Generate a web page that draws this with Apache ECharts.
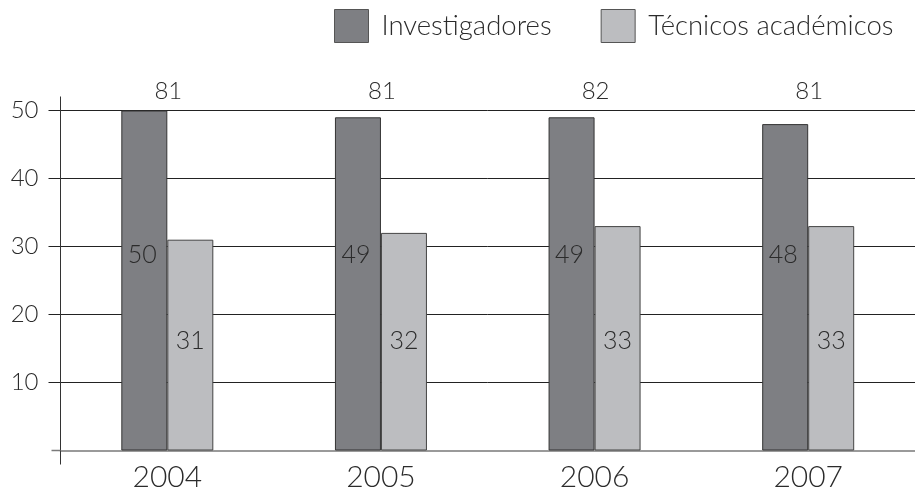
<!DOCTYPE html>
<html>
<head>
<meta charset="utf-8">
<script src="https://cdn.jsdelivr.net/npm/echarts@6/dist/echarts.min.js"></script>
<style>
  html, body { margin: 0; padding: 0; background: #fff; }
  #chart { width: 915px; height: 498px; }
</style>
</head>
<body>
<div id="chart"></div>
<script>
// Personal académico por año
const years = ['2004', '2005', '2006', '2007'];
const investigadores = [50, 49, 49, 48];
const tecnicos = [31, 32, 33, 33];
const totals = [81, 81, 82, 81];
const yTicks = [10, 20, 30, 40, 50];

const FONT = 'Lato, "Open Sans", "DejaVu Sans", sans-serif';
const TEXT = '#2b2b2b';
const DARK = '#7e7f83';
const LIGHT = '#bcbdc0';
const GRID_LEFT = 60.5;

const chart = echarts.init(document.getElementById('chart'), null, { renderer: 'canvas' });

const option = {
  animation: false,
  backgroundColor: '#ffffff',
  textStyle: { fontFamily: FONT, fontWeight: 300 },
  legend: {
    left: 329,
    top: 4,
    itemWidth: 34,
    itemHeight: 33,
    itemGap: 49,
    icon: 'rect',
    itemStyle: { borderColor: '#555', borderWidth: 1 },
    textStyle: {
      fontFamily: FONT, fontWeight: 300, fontSize: 27.5, color: TEXT,
      padding: [0, 0, 0, 8]
    },
    data: ['Investigadores', 'Técnicos académicos']
  },
  grid: { left: GRID_LEFT, right: -12.5, top: 110.5, bottom: 47.5, containLabel: false },
  xAxis: {
    type: 'category',
    data: years,
    axisTick: { show: false },
    axisLine: { show: true, lineStyle: { color: '#7a7a7a', width: 1.5 } },
    axisLabel: { fontFamily: FONT, fontWeight: 300, fontSize: 30, color: TEXT, margin: 12 }
  },
  yAxis: {
    type: 'value',
    min: 0,
    max: 50,
    interval: 10,
    axisLine: { show: false },
    axisTick: {
      show: true, inside: false, length: 12,
      customValues: yTicks,
      lineStyle: { color: '#222', width: 1 }
    },
    axisLabel: {
      customValues: yTicks,
      fontFamily: FONT, fontWeight: 300, fontSize: 24, color: TEXT, margin: 22
    },
    splitLine: { show: true, lineStyle: { color: '#222', width: 1 } }
  },
  series: [
    {
      name: 'Investigadores',
      type: 'bar',
      data: investigadores,
      barWidth: 46,
      barGap: '0%',
      itemStyle: { color: DARK, borderColor: '#333', borderWidth: 1 },
      label: {
        show: true, position: 'insideBottom', offset: [-2, -178],
        fontFamily: FONT, fontWeight: 300, fontSize: 25, color: TEXT
      },
      z: 3
    },
    {
      name: 'Técnicos académicos',
      type: 'bar',
      data: tecnicos,
      barWidth: 46,
      itemStyle: { color: LIGHT, borderColor: '#444', borderWidth: 1 },
      label: {
        show: true, position: 'insideBottom', offset: [0, -92],
        fontFamily: FONT, fontWeight: 300, fontSize: 25, color: TEXT
      },
      z: 3
    },
    {
      // group totals written above the plot
      type: 'custom',
      clip: false,
      silent: true,
      data: totals.map((t, i) => [i, t]),
      renderItem: function (params, api) {
        const x = api.coord([api.value(0), 0])[0];
        const yTop = api.coord([api.value(0), 50])[1];
        return {
          type: 'text',
          x: x + 1,
          y: yTop - 19,
          style: {
            text: String(api.value(1)),
            font: '300 24px ' + FONT,
            fill: TEXT,
            textAlign: 'center',
            textVerticalAlign: 'middle'
          }
        };
      },
      z: 4
    }
  ]
};

chart.setOption(option);

// vertical axis line, extending a little past both ends of the scale
const y0 = chart.convertToPixel({ yAxisIndex: 0 }, 0);
const y50 = chart.convertToPixel({ yAxisIndex: 0 }, 50);
chart.setOption({
  graphic: [
    {
      type: 'line',
      shape: { x1: GRID_LEFT, y1: y50 - 14, x2: GRID_LEFT, y2: y0 + 14 },
      style: { stroke: '#333', lineWidth: 1 },
      z: 10
    },
    {
      type: 'line',
      shape: { x1: GRID_LEFT - 9, y1: y0, x2: GRID_LEFT, y2: y0 },
      style: { stroke: '#7a7a7a', lineWidth: 1.5 },
      z: 10
    }
  ]
});
</script>
</body>
</html>
